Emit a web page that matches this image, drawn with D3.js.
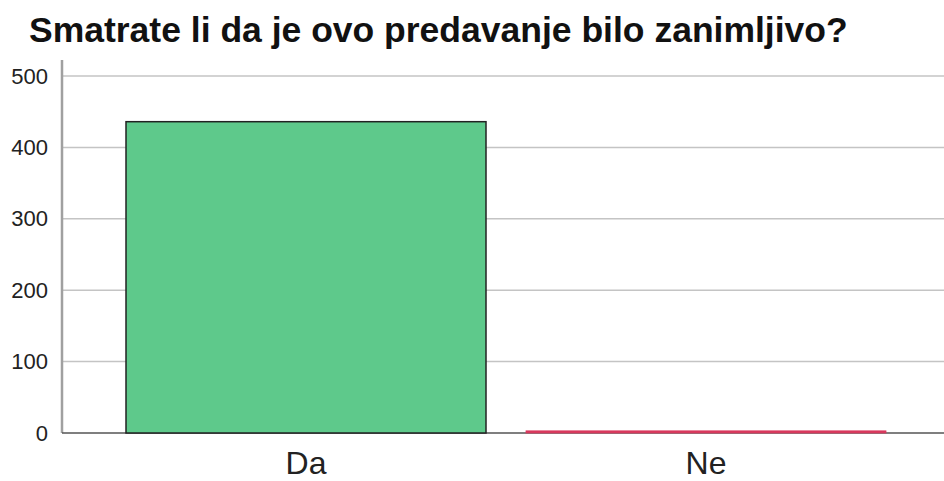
<!DOCTYPE html>
<html>
<head>
<meta charset="utf-8">
<script src="https://cdn.jsdelivr.net/npm/d3@7"></script>
<style>
  body { margin: 0; background: #fff; }
  text { font-family: "Liberation Sans", Arial, sans-serif; }
</style>
</head>
<body>
<div id="chart"></div>
<script>
const title = 'Smatrate li da je ovo predavanje bilo zanimljivo?';
const categories = ['Da', 'Ne'];
const counts = [436, 3];
const barColors = ['#5ec98b', '#d8395d'];
const yTicks = [0, 100, 200, 300, 400, 500];

const width = 944, height = 481;
const svg = d3.select('#chart').append('svg')
  .attr('width', width)
  .attr('height', height);

const y = d3.scaleLinear().domain([0, 500]).range([433, 76]);
const x = d3.scaleBand().domain(categories)
  .range([106, 906])
  .paddingInner(0.1)
  .paddingOuter(0.05);

// gridlines
svg.append('g')
  .selectAll('line')
  .data(yTicks.slice(1))
  .enter().append('line')
  .attr('x1', 62).attr('x2', width)
  .attr('y1', d => y(d)).attr('y2', d => y(d))
  .attr('stroke', '#c4c4c4')
  .attr('stroke-width', 1.5);

// y axis
svg.append('g')
  .attr('transform', 'translate(62,0)')
  .call(d3.axisLeft(y).tickValues(yTicks).tickSize(0).tickPadding(14))
  .call(g => g.select('.domain').attr('stroke', '#a0a0a0').attr('stroke-width', 2.5)
    .attr('d', `M0,${y(0)}V60`))
  .call(g => g.selectAll('.tick text').attr('fill', '#222').style('font-size', '22px')
    .attr('font-family', '"Liberation Sans", Arial, sans-serif'));

// x axis baseline
svg.append('line')
  .attr('x1', 62).attr('x2', width)
  .attr('y1', y(0)).attr('y2', y(0))
  .attr('stroke', '#555')
  .attr('stroke-width', 1.5);

// bars
svg.append('g')
  .selectAll('rect')
  .data(categories)
  .enter().append('rect')
  .attr('x', d => x(d))
  .attr('y', (d, i) => y(counts[i]))
  .attr('width', x.bandwidth())
  .attr('height', (d, i) => y(0) - y(counts[i]))
  .attr('fill', (d, i) => barColors[i])
  .attr('stroke', (d, i) => i === 0 ? '#222' : barColors[i])
  .attr('stroke-width', (d, i) => i === 0 ? 1.5 : 0.8);

// x labels
svg.append('g')
  .attr('transform', `translate(0,${y(0)})`)
  .call(d3.axisBottom(x).tickSize(0).tickPadding(18))
  .call(g => g.select('.domain').remove())
  .call(g => g.selectAll('.tick text').attr('fill', '#222').style('font-size', '32px')
    .attr('font-family', '"Liberation Sans", Arial, sans-serif'));

// title
svg.append('text')
  .attr('x', 29)
  .attr('y', 42)
  .attr('font-weight', 'bold')
  .style('font-size', '35.5px')
  .attr('fill', '#111')
  .text(title);
</script>
</body>
</html>
